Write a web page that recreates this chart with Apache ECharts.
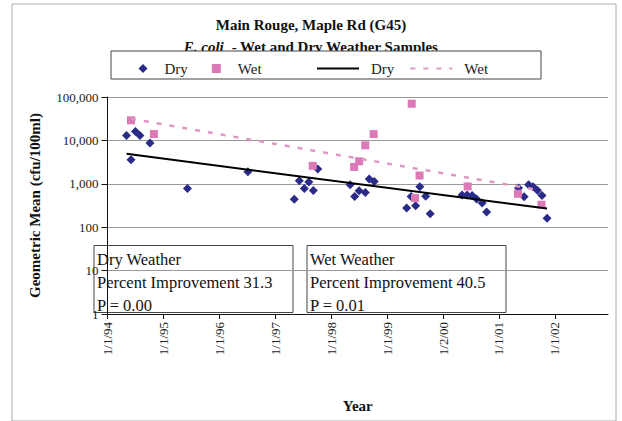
<!DOCTYPE html>
<html>
<head>
<meta charset="utf-8">
<script src="https://cdn.jsdelivr.net/npm/echarts@6/dist/echarts.min.js"></script>
<style>
  html, body { margin: 0; padding: 0; background: #fff; }
  #chart { width: 622px; height: 421px; }
</style>
</head>
<body>
<div id="chart"></div>
<script>
// Sample dates as decimal years, geometric means in cfu/100ml
const dryYears = [1994.34, 1994.42, 1994.50, 1994.58, 1994.76, 1995.43, 1996.51, 1997.34, 1997.43, 1997.52,
  1997.60, 1997.68, 1997.76, 1998.34, 1998.42, 1998.50, 1998.61, 1998.68, 1998.77, 1999.35,
  1999.43, 1999.51, 1999.585, 1999.69, 1999.77, 2000.34, 2000.43, 2000.52, 2000.60, 2000.70,
  2000.78, 2001.35, 2001.45, 2001.53, 2001.61, 2001.69, 2001.77, 2001.86];
const dryValues = [13000, 3600, 16000, 13000, 8700, 780, 1900, 440, 1180, 780,
  1100, 700, 2200, 950, 510, 690, 630, 1290, 1130, 276,
  510, 310, 850, 520, 205, 550, 550, 540, 445, 360,
  225, 800, 500, 950, 850, 700, 540, 160];

const wetYears = [1994.42, 1994.83, 1997.67, 1998.41, 1998.50, 1998.61, 1998.76, 1999.44, 1999.50, 1999.58,
  2000.44, 2001.34, 2001.76];
const wetValues = [29000, 14000, 2600, 2450, 3300, 7700, 14000, 70000, 470, 1550,
  870, 590, 330];

// Fitted trend lines (start and end of each)
const dryTrendYears = [1994.34, 2001.86];
const dryTrendValues = [4900, 270];
const wetTrendYears = [1994.42, 2001.76];
const wetTrendValues = [31600, 700];

// Axis ticks
const tickYears = [1994, 1995, 1996, 1997, 1998, 1999, 2000, 2001, 2002];
const tickLabels = ['1/1/94', '1/1/95', '1/1/96', '1/1/97', '1/1/98', '1/1/99', '1/2/00', '1/1/01', '1/1/02'];

// Trend statistics
const statTitles = ['Dry Weather', 'Wet Weather'];
const statImprovement = ['31.3', '40.5'];
const statP = ['0.00', '0.01'];

const SERIF = '"Liberation Serif", "Times New Roman", serif';
const pairs = (xs, ys) => xs.map((x, i) => [x, ys[i]]);

const chart = echarts.init(document.getElementById('chart'), null, { renderer: 'svg' });

function statBox(i, left) {
  return {
    type: 'group', left: left, top: 245, z: 20,
    children: [
      { type: 'rect', shape: { x: 0, y: 0, width: 199, height: 67 },
        style: { fill: '#fff', stroke: '#444', lineWidth: 1 } },
      { type: 'text', x: 3, y: 2,
        style: {
          text: statTitles[i] + '\nPercent Improvement ' + statImprovement[i] + '\nP = ' + statP[i],
          font: '16.5px ' + SERIF, lineHeight: 23, fill: '#111'
        } }
    ]
  };
}

chart.setOption({
  animation: false,
  backgroundColor: '#fff',
  title: [
    { text: 'Main Rouge, Maple Rd (G45)', left: 'center', top: 12, z: 1,
      textStyle: { fontFamily: SERIF, fontSize: 15, fontWeight: 'bold', color: '#111' } },
    { text: '{i|E. coli}{b|  - Wet and Dry Weather Samples}', left: 'center', top: 34, z: 1,
      textStyle: { rich: {
        i: { fontFamily: SERIF, fontSize: 15, fontWeight: 'bold', fontStyle: 'italic', color: '#111' },
        b: { fontFamily: SERIF, fontSize: 15, fontWeight: 'bold', color: '#111' }
      } } }
  ],
  graphic: [
    { type: 'rect', left: 9.5, top: 1.5, z: 0, silent: true,
      shape: { width: 604, height: 417 }, style: { fill: 'none', stroke: '#aaa', lineWidth: 1 } },
    { type: 'rect', left: 110.5, top: 50.5, z: 5, silent: true,
      shape: { width: 430, height: 28 }, style: { fill: '#fff', stroke: '#444', lineWidth: 1 } },
    statBox(0, 93.5),
    statBox(1, 306.5)
  ],
  legend: [
    { data: ['Dry', 'Wet'], left: 133.5, top: 56, z: 6, itemWidth: 9, itemHeight: 9, itemGap: 24,
      symbolKeepAspect: true, itemStyle: { opacity: 1 },
      textStyle: { fontFamily: SERIF, fontSize: 15, color: '#222', padding: [0, 0, 0, 12] } },
    { data: ['Dry trend', 'Wet trend'], left: 311, top: 56, z: 6, itemWidth: 42, itemHeight: 9, itemGap: 15,
      itemStyle: { opacity: 0 },
      formatter: name => name.split(' ')[0],
      textStyle: { fontFamily: SERIF, fontSize: 15, color: '#222', padding: [0, 0, 0, 7] } }
  ],
  grid: { left: 107.5, right: 14, top: 97, bottom: 107, containLabel: false },
  xAxis: {
    type: 'value', min: 1994, max: 2002.95, interval: 1,
    name: 'Year', nameLocation: 'middle', nameGap: 84,
    nameTextStyle: { fontFamily: SERIF, fontSize: 15, fontWeight: 'bold', color: '#111' },
    splitLine: { show: false },
    axisLine: { lineStyle: { color: '#111', width: 1 } },
    axisTick: { customValues: tickYears, length: 5, lineStyle: { color: '#111' } },
    axisLabel: {
      customValues: tickYears, rotate: 90, margin: 8,
      fontFamily: SERIF, fontSize: 13, color: '#222',
      formatter: v => tickLabels[tickYears.indexOf(Math.round(v))]
    }
  },
  yAxis: {
    type: 'log', logBase: 10, min: 1, max: 100000,
    name: 'Geometric Mean (cfu/100ml)', nameLocation: 'middle', nameGap: 65,
    nameTextStyle: { fontFamily: SERIF, fontSize: 15, fontWeight: 'bold', color: '#111' },
    splitLine: { show: true, lineStyle: { color: '#999', width: 1 } },
    axisLine: { show: true, lineStyle: { color: '#111', width: 1 } },
    axisTick: { show: true, length: 6, lineStyle: { color: '#111' } },
    axisLabel: {
      margin: 9, fontFamily: SERIF, fontSize: 13, color: '#222',
      formatter: v => Number(v).toLocaleString('en-US')
    }
  },
  series: [
    { name: 'Dry', type: 'scatter', symbol: 'diamond', symbolSize: 9,
      itemStyle: { color: '#2a2a88', opacity: 1 }, data: pairs(dryYears, dryValues), z: 3 },
    { name: 'Wet', type: 'scatter', symbol: 'rect', symbolSize: 8,
      itemStyle: { color: '#dc7ab8', opacity: 1 }, data: pairs(wetYears, wetValues), z: 3 },
    { name: 'Dry trend', type: 'line', symbol: 'none', z: 4,
      lineStyle: { color: '#000', width: 2 }, itemStyle: { color: '#000' },
      data: pairs(dryTrendYears, dryTrendValues) },
    { name: 'Wet trend', type: 'line', symbol: 'none', z: 4,
      lineStyle: { color: '#dd98c4', width: 2.5, type: [5, 8] }, itemStyle: { color: '#dd98c4' },
      data: pairs(wetTrendYears, wetTrendValues) }
  ]
});
</script>
</body>
</html>
